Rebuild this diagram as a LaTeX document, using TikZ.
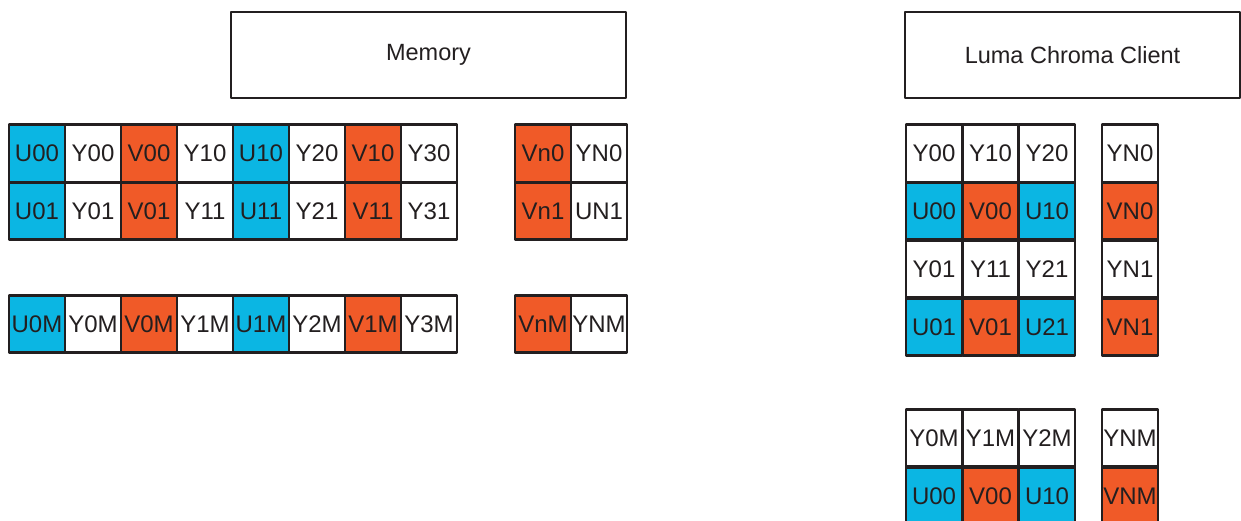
\documentclass[tikz,border=0pt]{standalone}
\usepackage{fontspec}
\setmainfont{Liberation Sans}
\definecolor{bleuU}{HTML}{0BB6E3}
\definecolor{orangeV}{HTML}{F05A28}
\definecolor{encre}{HTML}{231F20}

\begin{document}
\begin{tikzpicture}[line cap=round,line join=round,x=1pt,y=-1pt,
	cell/.style={draw=encre,text=encre,line width=2.6pt,minimum width=56pt,minimum height=57.5pt,inner sep=0pt,font=\fontsize{24}{28}\selectfont},
	titre/.style={draw=encre,text=encre,line width=2.6pt,inner sep=0pt,minimum height=86pt,font=\fontsize{23.5}{28}\selectfont}]
			\useasboundingbox (0,0) rectangle (1241,521);
			% Titres
			\node[titre,minimum width=395pt] (memoire) at (428.5,55) {Memory};
			\node[titre,minimum width=335pt] (client) at (1072.5,55) {Luma Chroma Client};
			% Memoire, ligne 0
			\foreach \t/\c [count=\i] in {U00/bleuU,Y00/white,V00/orangeV,Y10/white,U10/bleuU,Y20/white,V10/orangeV,Y30/white}
				\node[cell,fill=\c] (m0-\i) at ({37+56*(\i-1)},153.5) {\t};
			\node[cell,fill=orangeV] (mn0-1) at (543,153.5) {Vn0};
			\node[cell,fill=white] (mn0-2) at (599,153.5) {YN0};
			% Memoire, ligne 1
			\foreach \t/\c [count=\i] in {U01/bleuU,Y01/white,V01/orangeV,Y11/white,U11/bleuU,Y21/white,V11/orangeV,Y31/white}
				\node[cell,fill=\c] (m1-\i) at ({37+56*(\i-1)},211) {\t};
			\node[cell,fill=orangeV] (mn1-1) at (543,211) {Vn1};
			\node[cell,fill=white] (mn1-2) at (599,211) {UN1};
			% Memoire, ligne M
			\foreach \t/\c [count=\i] in {U0M/bleuU,Y0M/white,V0M/orangeV,Y1M/white,U1M/bleuU,Y2M/white,V1M/orangeV,Y3M/white}
				\node[cell,fill=\c] (mM-\i) at ({37+56*(\i-1)},324) {\t};
			\node[cell,fill=orangeV] (mnM-1) at (543,324) {VnM};
			\node[cell,fill=white] (mnM-2) at (599,324) {YNM};
			% Client
			\foreach \y/\r/\a/\ca/\b/\cb/\d/\cd/\n/\cn in {
					153.5/0/Y00/white/Y10/white/Y20/white/YN0/white,
					211/1/U00/bleuU/V00/orangeV/U10/bleuU/VN0/orangeV,
					269/2/Y01/white/Y11/white/Y21/white/YN1/white,
					327/3/U01/bleuU/V01/orangeV/U21/bleuU/VN1/orangeV,
					438/4/Y0M/white/Y1M/white/Y2M/white/YNM/white,
					496/5/U00/bleuU/V00/orangeV/U10/bleuU/VNM/orangeV}{
				\node[cell,fill=\ca] (c\r-1) at (934,\y) {\a};
				\node[cell,fill=\cb] (c\r-2) at (990.5,\y) {\b};
				\node[cell,fill=\cd] (c\r-3) at (1047,\y) {\d};
				\node[cell,fill=\cn] (cn\r) at (1130,\y) {\n};
			}
	\end{tikzpicture}
\end{document}
